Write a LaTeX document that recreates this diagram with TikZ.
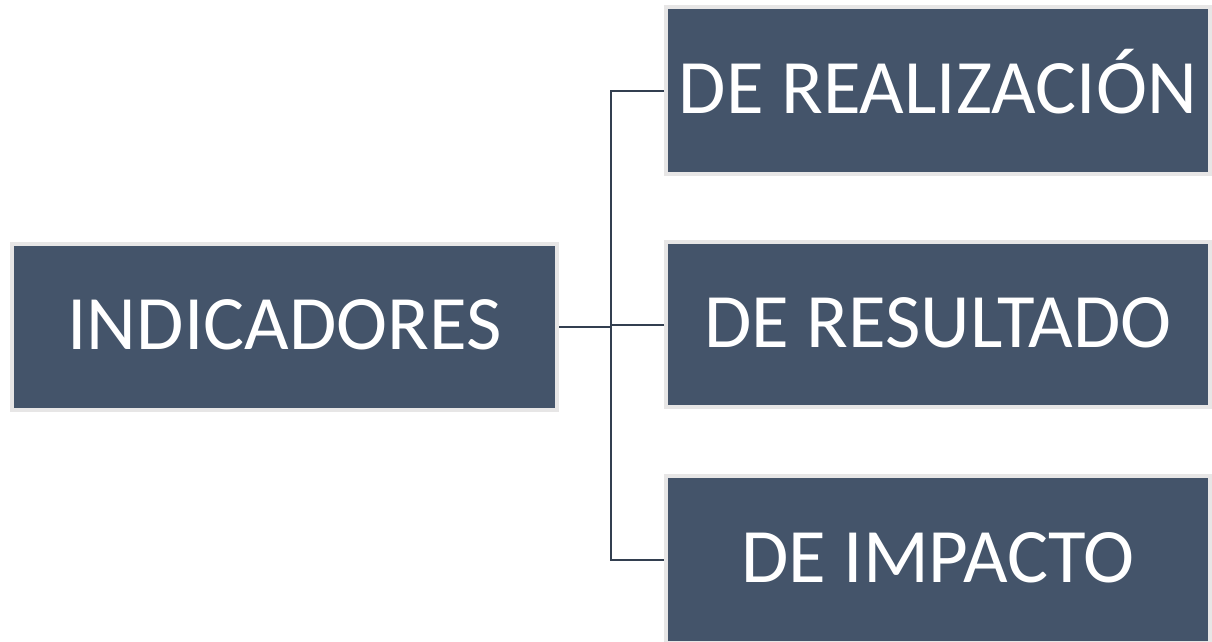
\documentclass[tikz,border=0pt]{standalone}
\usepackage{fontspec}
\setmainfont{Carlito}
\usetikzlibrary{calc}
\definecolor{boxfill}{HTML}{44546A}
\definecolor{boxline}{HTML}{E7E6E6}
\definecolor{linkcol}{HTML}{333F50}
\tikzset{
	%	box/.style={rectangle,draw,minimum size=1.5em},
	box/.style={rectangle,draw=boxline,line width=4pt,fill=boxfill,text=white,inner sep=0pt,
		text height=50pt,text depth=5pt,font=\fontsize{77}{92}\selectfont},
	link/.style={draw=linkcol,line width=2pt}
}
\begin{document}
\begin{tikzpicture}[x=1pt,y=-1pt]
	\useasboundingbox (0,0) rectangle (1212,641);
	\node[box,minimum width=545pt,minimum height=166pt] (ind) at (284.5, 327) {INDICADORES};
	\node[box,minimum width=544pt,minimum height=167pt] (real) at (938, 90.5) {DE REALIZACIÓN};
	\node[box,minimum width=544pt,minimum height=165pt] (res) at (938, 324.5) {DE RESULTADO};
	\node[box,minimum width=544pt,minimum height=167pt] (imp) at (938, 559.5) {DE IMPACTO};
	
	\coordinate (j) at (611, 327);
	
	\draw[link] (ind.east) -- (j);
	\draw[link] (real.west) -| (j) |- (imp.west);
	\draw[link] (res.west) -- (res.west -| j);
\end{tikzpicture}
\end{document}
